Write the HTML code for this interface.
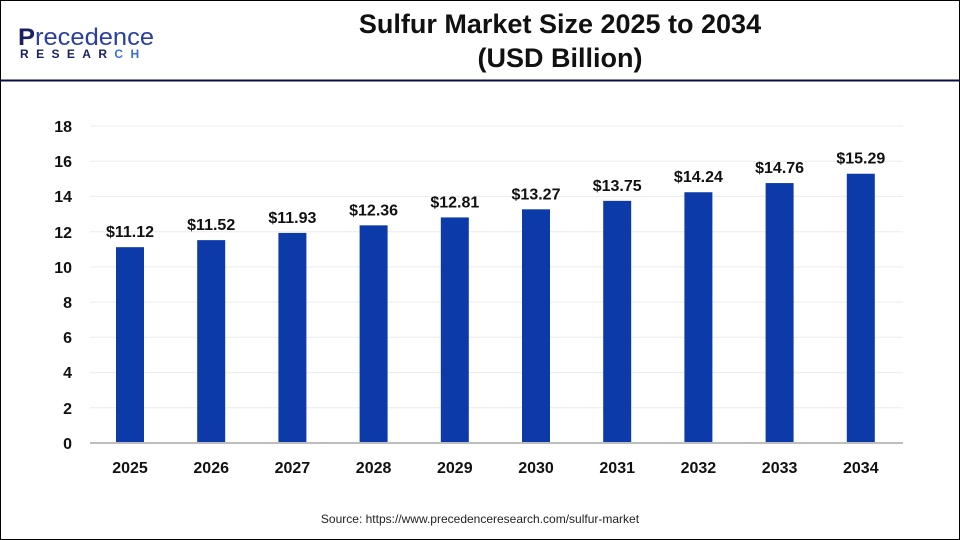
<!DOCTYPE html>
<html><head><style>
body{margin:0;background:#fff}
svg{display:block;font-family:"Liberation Sans",Arial,sans-serif}
</style></head><body>
<svg width="960" height="540" viewBox="0 0 960 540">
<rect x="0.5" y="0.5" width="959" height="539" fill="#fff" stroke="#000" stroke-width="1"/>
<line x1="0" y1="80.5" x2="960" y2="80.5" stroke="#0b0f3d" stroke-width="2"/>
<text x="18" y="45" font-size="24" fill="#1b2160" textLength="136" lengthAdjust="spacingAndGlyphs"><tspan font-weight="bold">P</tspan><tspan fill="#2a3fa0">recedence</tspan></text>
<text x="20" y="58" font-size="12" font-weight="bold" fill="#1b2160" style="letter-spacing:7.4px">RESEAR<tspan fill="#3b6fd8">CH</tspan></text>
<text x="560" y="33" text-anchor="middle" font-size="27" font-weight="bold" fill="#111">Sulfur Market Size 2025 to 2034</text>
<text x="560" y="67" text-anchor="middle" font-size="27" font-weight="bold" fill="#111">(USD Billion)</text>
<g stroke="#ececec" stroke-width="1">
<line x1="90" x2="903" y1="407.8" y2="407.8"/><line x1="90" x2="903" y1="372.6" y2="372.6"/>
<line x1="90" x2="903" y1="337.3" y2="337.3"/><line x1="90" x2="903" y1="302.1" y2="302.1"/>
<line x1="90" x2="903" y1="266.9" y2="266.9"/><line x1="90" x2="903" y1="231.7" y2="231.7"/>
<line x1="90" x2="903" y1="196.4" y2="196.4"/><line x1="90" x2="903" y1="161.2" y2="161.2"/>
<line x1="90" x2="903" y1="126" y2="126"/>
</g>
<g font-size="16" font-weight="bold" fill="#111" text-anchor="end">
<text x="72" y="449">0</text><text x="72" y="414">2</text><text x="72" y="378">4</text>
<text x="72" y="343">6</text><text x="72" y="308">8</text><text x="72" y="273">10</text>
<text x="72" y="238">12</text><text x="72" y="202">14</text><text x="72" y="167">16</text>
<text x="72" y="132">18</text>
</g>
<g id="bars" fill="#0d3aa9"></g>
<line x1="90" y1="443" x2="903" y2="443" stroke="#bdbdbd" stroke-width="2"/>
<g id="lbl" font-size="16" font-weight="bold" fill="#111" text-anchor="middle"></g>
<text x="480" y="523" text-anchor="middle" font-size="12" fill="#222">Source: https://www.precedenceresearch.com/sulfur-market</text>
<script>
var v=[11.12,11.52,11.93,12.36,12.81,13.27,13.75,14.24,14.76,15.29],ns="http://www.w3.org/2000/svg";
var b=document.getElementById('bars'),l=document.getElementById('lbl');
v.forEach(function(d,i){var cx=130+i*81.2,h=d*17.61,y=443-h;
var r=document.createElementNS(ns,'rect');r.setAttribute('x',cx-14);r.setAttribute('y',y);r.setAttribute('width',28);r.setAttribute('height',h);b.appendChild(r);
var t=document.createElementNS(ns,'text');t.setAttribute('x',cx);t.setAttribute('y',y-10);t.textContent='$'+d.toFixed(2);l.appendChild(t);
var t2=document.createElementNS(ns,'text');t2.setAttribute('x',cx);t2.setAttribute('y',473);t2.textContent=2025+i;l.appendChild(t2);});
</script>
</svg>
</body></html>
